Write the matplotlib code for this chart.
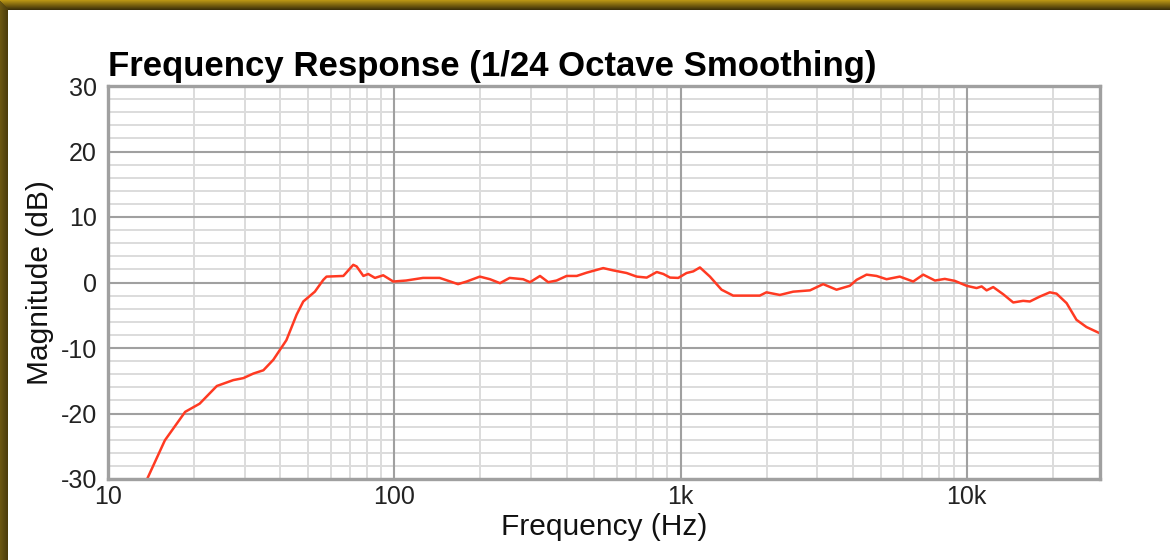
import numpy as np
import matplotlib
matplotlib.use("Agg")
import matplotlib.pyplot as plt
from matplotlib.ticker import FixedLocator, NullFormatter, NullLocator

plt.rcParams['font.family'] = ['Liberation Sans', 'DejaVu Sans']

# ---- data ----
freq_hz = [13.7, 15.8, 18.6, 20.9, 24.0, 27.4, 29.7, 32.2, 34.9, 37.8, 42.0, 45.6,
           48.1, 52.8, 56.5, 58.0, 66.4, 71.9, 73.9, 78.0, 81.1, 85.6, 91.5, 99.2,
           110, 126, 144, 157, 167, 179, 199, 216, 234, 253, 282, 298, 323, 345,
           369, 400, 434, 470, 537, 582, 648, 703, 762, 826, 871, 919, 982, 1050,
           1108, 1169, 1267, 1391, 1527, 1700, 1892, 1996, 2223, 2475, 2833, 3150,
           3508, 3905, 4120, 4466, 4839, 5246, 5834, 6497, 7044, 7743, 8380, 9083,
           9980, 10820, 11270, 11730, 12370, 13410, 14530, 15740, 16610, 17990,
           19500, 20580, 22320, 24170, 26190, 29150]
magnitude_db = [-30.0, -24.1, -19.75, -18.5, -15.8, -14.9, -14.6, -13.9, -13.4, -11.8,
                -8.8, -4.9, -2.9, -1.4, 0.4, 0.9, 1.0, 2.7, 2.45, 1.0, 1.3, 0.7, 1.1,
                0.15, 0.3, 0.7, 0.7, 0.15, -0.25, 0.15, 0.9, 0.5, -0.1, 0.7, 0.5,
                0.05, 1.0, 0.05, 0.3, 1.0, 1.0, 1.5, 2.2, 1.85, 1.45, 0.9, 0.75, 1.6,
                1.3, 0.75, 0.7, 1.45, 1.7, 2.3, 0.9, -1.1, -2.0, -2.0, -2.0, -1.5,
                -1.9, -1.4, -1.2, -0.25, -1.1, -0.5, 0.4, 1.2, 1.0, 0.5, 0.9, 0.15,
                1.2, 0.3, 0.55, 0.25, -0.5, -0.85, -0.6, -1.2, -0.7, -1.8, -3.05,
                -2.8, -2.9, -2.15, -1.5, -1.7, -3.15, -5.7, -6.8, -7.75]

x_ticks = [10, 100, 1000, 10000]
x_ticklabels = ['10', '100', '1k', '10k']
y_ticks = [-30, -20, -10, 0, 10, 20, 30]
y_ticklabels = ['-30', '-20', '-10', '0', '10', '20', '30']

title = 'Frequency Response (1/24 Octave Smoothing)'
xlabel = 'Frequency (Hz)'
ylabel = 'Magnitude (dB)'

X_MAX = 29200
W, H = 1170, 560
fig = plt.figure(figsize=(W / 100, H / 100), dpi=100)

# ---- background with golden frame (top and left) ----
bg = np.ones((H, W, 3))
gold = np.array([0.72, 0.58, 0.08])
dark = np.array([0.24, 0.19, 0.04])
top_h, left_w = 10, 8
for r in range(top_h):
    t = r / (top_h - 1)
    bg[r, :, :] = gold * (1 - t) + dark * t
for c in range(left_w):
    t = c / (left_w - 1)
    col = np.array([0.42, 0.34, 0.07]) * (1 - t) + np.array([0.30, 0.24, 0.05]) * t
    bg[c + 1:, c, :] = col
bax = fig.add_axes([0, 0, 1, 1], zorder=-10)
bax.imshow(bg, aspect='auto', interpolation='nearest', extent=[0, W, H, 0])
bax.set_axis_off()

# ---- main axes ----
L, R, T, B = 108, 1100, 86, 479
ax = fig.add_axes([L / W, 1 - B / H, (R - L) / W, (B - T) / H])
ax.set_xscale('log')
ax.set_xlim(10, X_MAX)
ax.set_ylim(-30, 30)

# grid drawn explicitly so the major lines sit on top of the minor ones
minor_x = [m * d for d in [10, 100, 1000, 10000] for m in range(2, 10) if m * d < X_MAX]
minor_y = [v for v in range(-30, 31, 2) if v % 10]
for v in minor_x:
    ax.axvline(v, color='#dcdcdc', lw=1.4, zorder=0.1)
for v in minor_y:
    ax.axhline(v, color='#dcdcdc', lw=1.4, zorder=0.1)
for v in x_ticks:
    ax.axvline(v, color='#a0a0a0', lw=1.5, zorder=0.2)
for v in y_ticks:
    ax.axhline(v, color='#a0a0a0', lw=1.5, zorder=0.2)

ax.plot(freq_hz, magnitude_db, color='#ff3a22', lw=1.8, zorder=3)

ax.xaxis.set_major_locator(FixedLocator(x_ticks))
ax.set_xticklabels(x_ticklabels)
ax.xaxis.set_minor_locator(NullLocator())
ax.set_yticks(y_ticks)
ax.set_yticklabels(y_ticklabels)
ax.yaxis.set_minor_locator(NullLocator())

ax.tick_params(which='both', length=0)
ax.tick_params(axis='y', pad=8, labelsize=18, labelcolor='#222222')
ax.tick_params(axis='x', pad=4, labelsize=18, labelcolor='#222222')
for s in ax.spines.values():
    s.set_color('#a0a0a0')
    s.set_linewidth(2.4)
    s.set_zorder(4)

ax.set_xlabel(xlabel, fontsize=21.5, color='#111111', labelpad=3)
ax.set_ylabel(ylabel, fontsize=21.5, color='#111111', labelpad=5)
ax.set_title(title, fontsize=25, fontweight='bold', loc='left', pad=7, color='#000000')

fig.savefig('out.png', dpi=100)
